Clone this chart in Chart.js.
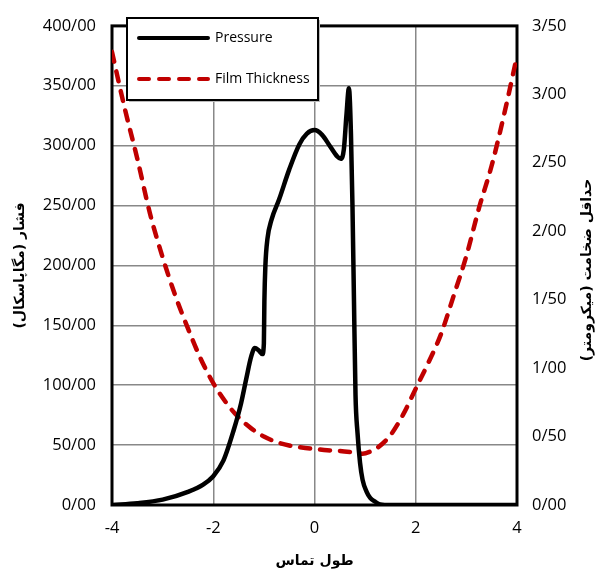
<!doctype html>
<html lang="fa">
  <head>
    <meta charset="UTF-8" />
    <title>Pressure / Film Thickness</title>
    <script src="https://cdn.jsdelivr.net/npm/chart.js"></script>
    <style>
      html, body { margin: 0; padding: 0; background: #fff; }
      .chart-container { position: relative; width: 602px; height: 578px; }
    </style>
  </head>
  <body>
    <div class="chart-container">
      <canvas id="ehlChart"></canvas>
    </div>

    <script>
      // طول تماس (x) و فشار
      const pressureX = [-4, -3.5, -3, -2.5, -2.2, -2, -1.8, -1.6, -1.45, -1.35, -1.25, -1.18, -1.1, -1.03, -1.0, -0.99, -0.97, -0.93, -0.85, -0.7, -0.5, -0.3, -0.15, 0, 0.15, 0.3, 0.45, 0.52, 0.58, 0.63, 0.68, 0.72, 0.75, 0.78, 0.81, 0.85, 0.9, 0.95, 1.03, 1.1, 1.19, 1.3, 1.5, 4]
      const pressureY = [0, 1.5, 4.5, 11, 17, 24, 37, 62, 85, 105, 124, 131, 129, 126, 135, 170, 200, 222, 238, 255, 280, 301, 310, 313, 309, 300, 291, 289, 297, 325, 348, 310, 250, 170, 92, 60, 35, 21, 11, 6, 3, 0.5, 0, 0]

      // حداقل ضخامت
      const filmX = [-4, -3.75, -3.5, -3.25, -3, -2.75, -2.5, -2.25, -2, -1.75, -1.5, -1.25, -1, -0.75, -0.5, -0.25, 0, 0.25, 0.5, 0.75, 0.95, 1.1, 1.25, 1.5, 1.75, 2, 2.25, 2.5, 2.75, 3, 3.25, 3.5, 3.75, 4]
      const filmY = [3.31, 2.9, 2.53, 2.13, 1.81, 1.53, 1.29, 1.07, 0.89, 0.75, 0.64, 0.56, 0.5, 0.46, 0.435, 0.42, 0.41, 0.4, 0.395, 0.385, 0.375, 0.39, 0.42, 0.51, 0.66, 0.85, 1.04, 1.25, 1.53, 1.82, 2.17, 2.48, 2.86, 3.28]

      const seriesNames = ['Pressure', 'Film Thickness']
      const axisTitles = ['طول تماس', 'فشار (مگاپاسکال)', 'حداقل ضخامت (میکرومتر)']

      const tickFont = { family: 'Open Sans', size: 16.5 }
      const titleFont = { family: 'DejaVu Sans', size: 14, weight: 'bold' }
      const fmt = (v) => v.toFixed(2).replace('.', '/')

      const frameAndLegend = {
        id: 'frameAndLegend',
        beforeDatasetsDraw(chart) {
          const { ctx, chartArea: a } = chart
          ctx.save()
          ctx.strokeStyle = '#000'
          ctx.lineWidth = 3
          ctx.strokeRect(a.left, a.top, a.right - a.left, a.bottom - a.top)
          ctx.restore()
        },
        afterDraw(chart) {
          const { ctx } = chart
          // right axis title, rotated like the left one
          ctx.save()
          ctx.translate(587, 270)
          ctx.rotate(-Math.PI / 2)
          ctx.font = 'bold 14px "DejaVu Sans"'
          ctx.fillStyle = '#000'
          ctx.textAlign = 'center'
          ctx.textBaseline = 'middle'
          ctx.fillText(axisTitles[2], 0, 0)
          ctx.restore()

          // legend box
          ctx.save()
          ctx.fillStyle = '#bbb'
          ctx.fillRect(129, 20, 191, 82)
          ctx.fillStyle = '#fff'
          ctx.fillRect(127, 18, 191, 82)
          ctx.strokeStyle = '#000'
          ctx.lineWidth = 2
          ctx.strokeRect(127, 18, 191, 82)
          const rows = [38, 79]
          chart.data.datasets.forEach((ds, i) => {
            ctx.beginPath()
            ctx.lineWidth = 4
            ctx.lineCap = 'round'
            ctx.strokeStyle = ds.borderColor
            ctx.setLineDash(ds.borderDash || [])
            ctx.moveTo(139, rows[i])
            ctx.lineTo(208, rows[i])
            ctx.stroke()
            ctx.setLineDash([])
            ctx.fillStyle = '#000'
            ctx.font = '14px "Open Sans"'
            ctx.textBaseline = 'middle'
            ctx.fillText(ds.label, 215, rows[i])
          })
          ctx.restore()
        }
      }

      const ctx = document.getElementById('ehlChart').getContext('2d')
      const ehlChart = new Chart(ctx, {
        type: 'line',
        data: {
          datasets: [
            {
              label: seriesNames[0],
              data: pressureX.map((x, i) => ({ x: x, y: pressureY[i] })),
              yAxisID: 'y',
              borderColor: '#000',
              borderWidth: 4.5,
              pointRadius: 0,
              cubicInterpolationMode: 'monotone',
              order: 1
            },
            {
              label: seriesNames[1],
              data: filmX.map((x, i) => ({ x: x, y: filmY[i] })),
              yAxisID: 'y1',
              borderColor: '#c00000',
              borderWidth: 4.5,
              borderDash: [10, 10],
              borderCapStyle: 'round',
              pointRadius: 0,
              cubicInterpolationMode: 'monotone',
              order: 2
            }
          ]
        },
        options: {
          responsive: true,
          maintainAspectRatio: false,
          animation: false,
          layout: { padding: { top: 20, right: 0, left: 0, bottom: 0 } },
          plugins: {
            legend: { display: false },
            tooltip: { enabled: false }
          },
          scales: {
            x: {
              type: 'linear',
              min: -4,
              max: 4,
              ticks: { stepSize: 2, color: '#000', font: tickFont, padding: 13 },
              grid: { color: '#888', lineWidth: 1.5, drawTicks: false },
              border: { display: false },
              title: { display: true, text: axisTitles[0], color: '#000', font: titleFont, padding: { top: 0, bottom: 8 } },
              afterFit: (s) => { s.height = 73 }
            },
            y: {
              position: 'left',
              min: 0,
              max: 400,
              ticks: { stepSize: 50, color: '#000', font: tickFont, padding: 16, callback: (v) => fmt(v) },
              grid: { color: '#888', lineWidth: 1.5, drawTicks: false },
              border: { display: false },
              title: { display: true, text: axisTitles[1], color: '#000', font: titleFont, padding: { top: 12, bottom: 0 } },
              afterFit: (s) => { s.width = 112 }
            },
            y1: {
              position: 'right',
              min: 0,
              max: 3.5,
              ticks: { stepSize: 0.5, color: '#000', font: tickFont, padding: 15, callback: (v) => fmt(v) },
              grid: { drawOnChartArea: false, drawTicks: false },
              border: { display: false },
              afterFit: (s) => { s.width = 85 }
            }
          }
        },
        plugins: [frameAndLegend]
      })
    </script>
  </body>
</html>
